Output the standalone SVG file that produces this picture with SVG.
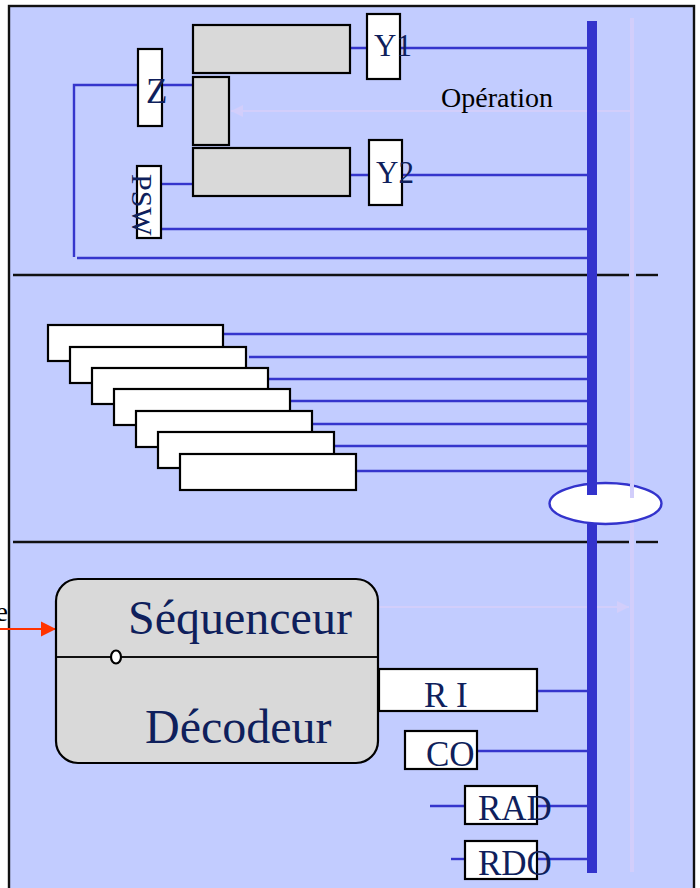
<svg xmlns="http://www.w3.org/2000/svg" width="700" height="888" viewBox="0 0 700 888">
  <style>
    .wire { stroke: #3535CC; stroke-width: 2.4; fill: none; }
    .bus { fill: #3333CC; }
    .faint { stroke: #D2CEFB; fill: none; }
    .reg { fill: #FFFFFF; stroke: #000000; stroke-width: 2.2; }
    .alu { fill: #D9D9D9; stroke: #000000; stroke-width: 2.2; }
    .sep { stroke: #111111; stroke-width: 2.4; }
    .lbl { font-family: "Liberation Serif", "Times New Roman", serif; fill: #0F1F5C; }
    .blk { font-family: "Liberation Serif", "Times New Roman", serif; fill: #000000; }
  </style>
  <defs>
    <marker id="redHead" markerWidth="16" markerHeight="16" refX="15" refY="8" orient="auto" markerUnits="userSpaceOnUse">
      <path d="M0,0.5 L15,8 L0,15.5 Z" fill="#FF3300"/>
    </marker>
    <marker id="faintHeadL" markerWidth="14" markerHeight="14" refX="1" refY="7" orient="auto" markerUnits="userSpaceOnUse">
      <path d="M13,1 L1,7 L13,13 Z" fill="#D2CEFB"/>
    </marker>
    <marker id="faintHeadR" markerWidth="14" markerHeight="14" refX="13" refY="7" orient="auto" markerUnits="userSpaceOnUse">
      <path d="M1,1 L13,7 L1,13 Z" fill="#D2CEFB"/>
    </marker>
  </defs>

  <!-- page and frame -->
  <rect x="0" y="0" width="700" height="888" fill="#FFFFFF"/>
  <rect x="9" y="6" width="685" height="890" fill="#C2CCFF" stroke="#111111" stroke-width="2.4"/>

  <!-- section separators -->
  <g id="separators">
    <line class="sep" x1="13" y1="275" x2="629" y2="275"/>
    <line class="sep" x1="636" y1="275" x2="658" y2="275"/>
    <line class="sep" x1="13" y1="542" x2="629" y2="542"/>
    <line class="sep" x1="636" y1="542" x2="658" y2="542"/>
  </g>

  <!-- faint guide lines -->
  <g id="guides">
    <line class="faint" x1="632" y1="18" x2="632" y2="872" stroke-width="4"/>
    <line class="faint" x1="231" y1="111" x2="630" y2="111" stroke-width="2" marker-start="url(#faintHeadL)"/>
    <line class="faint" x1="378" y1="607" x2="629" y2="607" stroke-width="2" marker-end="url(#faintHeadR)"/>
  </g>

  <!-- connectors -->
  <g id="connectors">
    <!-- operative part -->
    <line class="wire" x1="350" y1="48" x2="590" y2="48"/>
    <line class="wire" x1="350" y1="175" x2="590" y2="175"/>
    <polyline class="wire" points="193,85 74,85 74,257"/>
    <line class="wire" x1="77" y1="258" x2="590" y2="258"/>
    <line class="wire" x1="161" y1="184" x2="193" y2="184"/>
    <line class="wire" x1="161" y1="229" x2="590" y2="229"/>
    <!-- register file -->
    <line class="wire" x1="223" y1="334" x2="590" y2="334"/>
    <line class="wire" x1="249" y1="357" x2="590" y2="357"/>
    <line class="wire" x1="268" y1="379" x2="590" y2="379"/>
    <line class="wire" x1="290" y1="401" x2="590" y2="401"/>
    <line class="wire" x1="312" y1="424" x2="590" y2="424"/>
    <line class="wire" x1="334" y1="446" x2="590" y2="446"/>
    <line class="wire" x1="357" y1="471" x2="590" y2="471"/>
    <!-- control part -->
    <line class="wire" x1="537" y1="691" x2="590" y2="691"/>
    <line class="wire" x1="477" y1="751" x2="590" y2="751"/>
    <line class="wire" x1="430" y1="806" x2="465" y2="806"/>
    <line class="wire" x1="537" y1="806" x2="590" y2="806"/>
    <line class="wire" x1="451" y1="859" x2="465" y2="859"/>
    <line class="wire" x1="537" y1="859" x2="590" y2="859"/>
    <!-- clock input -->
    <line x1="0" y1="629" x2="56" y2="629" stroke="#FF3300" stroke-width="2" marker-end="url(#redHead)"/>
  </g>

  <!-- internal bus -->
  <g id="bus">
    <ellipse cx="605.5" cy="503.5" rx="56" ry="20.5" fill="#FFFFFF" stroke="#3333CC" stroke-width="2.4"/>
    <rect class="bus" x="587" y="21" width="10" height="474"/>
    <rect class="bus" x="587" y="524" width="10" height="349"/>
    <line class="faint" x1="632" y1="484" x2="632" y2="498" stroke-width="4"/>
  </g>

  <!-- ALU -->
  <g id="alu">
    <rect class="alu" x="193" y="25" width="157" height="48"/>
    <rect class="alu" x="193" y="77" width="36" height="68"/>
    <rect class="alu" x="193" y="148" width="157" height="48"/>
  </g>

  <g id="reg-Z">
    <rect class="reg" x="138" y="49" width="24" height="77"/>
    <text class="lbl" x="146" y="103" font-size="35">Z</text>
  </g>

  <g id="reg-PSW">
    <rect class="reg" x="137" y="166" width="24" height="72"/>
    <text class="lbl" font-size="30" transform="translate(132,174) rotate(90)">PSW</text>
  </g>

  <g id="reg-Y1">
    <rect class="reg" x="367" y="14" width="33" height="65"/>
    <text class="lbl" x="374" y="56" font-size="31">Y1</text>
  </g>

  <g id="reg-Y2">
    <rect class="reg" x="369" y="140" width="33" height="65"/>
    <text class="lbl" x="376" y="183" font-size="31">Y2</text>
  </g>

  <g id="label-operation">
    <text class="blk" x="441" y="107" font-size="28">Opération</text>
  </g>

  <!-- general purpose registers -->
  <g id="registers">
    <rect class="reg" x="48" y="325" width="175" height="36"/>
    <rect class="reg" x="70" y="347" width="176" height="36"/>
    <rect class="reg" x="92" y="368" width="176" height="36"/>
    <rect class="reg" x="114" y="389" width="176" height="36"/>
    <rect class="reg" x="136" y="411" width="176" height="36"/>
    <rect class="reg" x="158" y="432" width="176" height="36"/>
    <rect class="reg" x="180" y="454" width="176" height="36"/>
  </g>

  <!-- sequencer / decoder -->
  <g id="sequenceur">
    <rect class="alu" x="56" y="579" width="322" height="184" rx="22" ry="22"/>
    <line x1="57" y1="657" x2="377" y2="657" stroke="#111111" stroke-width="2.2"/>
    <ellipse cx="116" cy="657" rx="5" ry="6.5" fill="#FFFFFF" stroke="#000000" stroke-width="2.2"/>
    <text class="lbl" x="128" y="634" font-size="48">Séquenceur</text>
    <text class="lbl" x="145" y="743" font-size="48">Décodeur</text>
  </g>

  <g id="label-clock">
    <text class="blk" x="8" y="621" font-size="28" text-anchor="end">e</text>
  </g>

  <g id="reg-RI">
    <rect class="reg" x="379" y="669" width="158" height="42"/>
    <text class="lbl" x="424" y="707" font-size="35">R I</text>
  </g>

  <g id="reg-CO">
    <rect class="reg" x="405" y="731" width="72" height="38"/>
    <text class="lbl" x="426" y="766" font-size="35">CO</text>
  </g>

  <g id="reg-RAD">
    <rect class="reg" x="465" y="786" width="72" height="38"/>
    <text class="lbl" x="478" y="820" font-size="35">RAD</text>
  </g>

  <g id="reg-RDO">
    <rect class="reg" x="465" y="841" width="72" height="38"/>
    <text class="lbl" x="478" y="875" font-size="35">RDO</text>
  </g>
</svg>
